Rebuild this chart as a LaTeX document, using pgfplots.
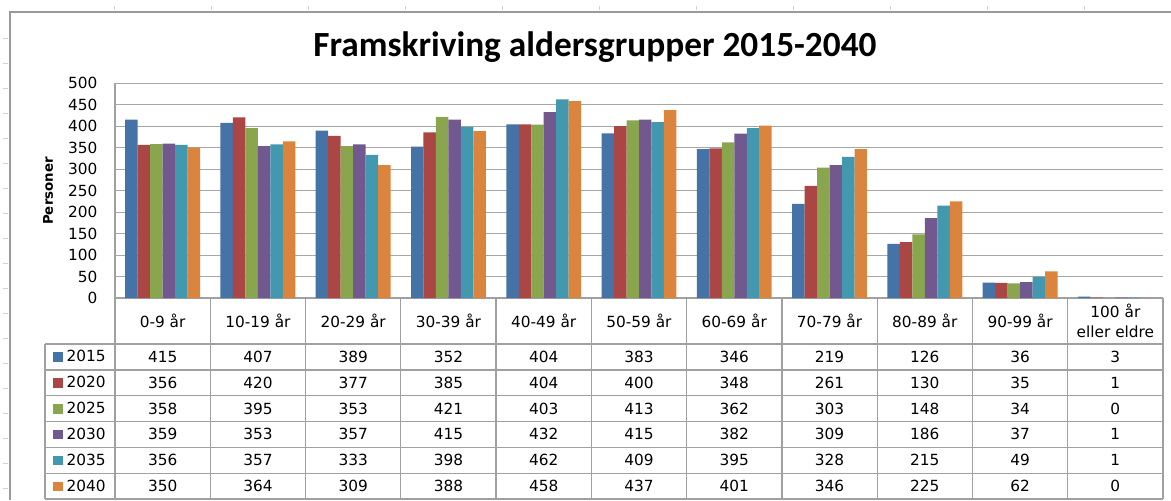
\documentclass[border=0pt]{standalone}
\usepackage{pgfplots}
\pgfplotsset{compat=1.18}
\usepackage{pgfplotstable}
\usepackage{fontspec}
\setmainfont{DejaVu Sans}
\newfontfamily\titlefont{Carlito}
\definecolor{c1}{HTML}{4572A7}
\definecolor{c2}{HTML}{AA4643}
\definecolor{c3}{HTML}{89A54E}
\definecolor{c4}{HTML}{71588F}
\definecolor{c5}{HTML}{4198AF}
\definecolor{c6}{HTML}{DB843D}
\definecolor{tabgray}{HTML}{A0A0A0}
\definecolor{gridgray}{HTML}{A6A6A6}

\pgfplotstableread{
cat y2015 y2020 y2025 y2030 y2035 y2040
0  415 356 358 359 356 350
1  407 420 395 353 357 364
2  389 377 353 357 333 309
3  352 385 421 415 398 388
4  404 404 403 432 462 458
5  383 400 413 415 409 437
6  346 348 362 382 395 401
7  219 261 303 309 328 346
8  126 130 148 186 215 225
9  36  35  34  37  49  62
10 3   1   0   1   1   0
}\data

\begin{document}
\begin{tikzpicture}
\begin{axis}[
  at={(86.25pt,-223.5pt)}, anchor=south west,
  scale only axis, width=786pt, height=161.25pt,
  xmin=-0.5, xmax=10.5, ymin=0, ymax=500,
  ytick={0,50,...,500}, xtick=\empty,
  axis x line*=bottom, axis y line*=left,
  axis line style={-, draw=tabgray, line width=0.9pt},
  ymajorgrids, grid style={draw=gridgray, line width=0.75pt},
  major tick length=0pt,
  /pgf/number format/assume math mode=true,
  yticklabel style={font=\fontsize{11.5}{13}\selectfont, inner sep=0pt, xshift=-13pt},
  ybar=0pt, bar width=0.131,
  area legend,
  legend image code/.code={\fill[#1,draw=none] (0pt,-3.6pt) rectangle (7.2pt,3.6pt);},
  legend cell align=left,
  legend style={at={(axis description cs:-0.0595,-0.214)}, anchor=north west,
    draw=none, fill=none, inner sep=0pt, row sep=0pt, column sep=3pt,
    nodes={inner sep=0pt, minimum height=19.37pt, font=\fontsize{11.5}{13}\selectfont}},
]
\addplot[fill=c1, draw=none, bar shift=-0.3275] table[x=cat, y=y2015] {\data};
\addplot[fill=c2, draw=none, bar shift=-0.1965] table[x=cat, y=y2020] {\data};
\addplot[fill=c3, draw=none, bar shift=-0.0655] table[x=cat, y=y2025] {\data};
\addplot[fill=c4, draw=none, bar shift=0.0655] table[x=cat, y=y2030] {\data};
\addplot[fill=c5, draw=none, bar shift=0.1965] table[x=cat, y=y2035] {\data};
\addplot[fill=c6, draw=none, bar shift=0.3275] table[x=cat, y=y2040] {\data};
\legend{2015,2020,2025,2030,2035,2040}
\end{axis}

\begin{scope}[x=0.75pt, y=-0.75pt]
  % outer chart frame and sheet marks
  \draw[draw=gray!80, line width=1pt] (10,500) -- (10,12) -- (1171,12);
  \foreach \yy in {38,63,...,488} \draw[draw=gray!35, line width=0.6pt] (3,\yy) -- (8,\yy);
  \foreach \xx in {114,211,...,1100} \draw[draw=gray!35, line width=0.6pt] (\xx,6) -- (\xx,10);
  % title
  \node[anchor=base, font=\titlefont\bfseries\fontsize{26.5}{30}\selectfont] at (595,56) {Framskriving aldersgrupper 2015-2040};
  % y label
  \node[rotate=90, font=\bfseries\fontsize{10}{12}\selectfont] at (48,191) {Personer};
  % table grid
  \begin{scope}[draw=tabgray, line width=1pt]
    \foreach \yy in {344,369.83,395.67,421.5,447.33,473.17,499} \draw (45,\yy) -- (1163,\yy);
    \draw (45,344) -- (45,499);
    \foreach \k in {0,...,11} \draw (115+95.27*\k,298) -- (115+95.27*\k,499);
  \end{scope}
  % header labels
  \foreach \lab [count=\k from 0] in {0-9 år,10-19 år,20-29 år,30-39 år,40-49 år,50-59 år,60-69 år,70-79 år,80-89 år,90-99 år}
    \node[font=\fontsize{11.5}{13}\selectfont] at (162.64+95.27*\k,321) {\lab};
  \node[align=center, font=\fontsize{11.5}{15}\selectfont] at (1115.4,321) {100 år\\eller eldre};
  % values
  \foreach \yr [count=\r from 0] in {2015,2020,2025,2030,2035,2040} {
    \foreach \k in {0,...,10} {
      \pgfplotstablegetelem{\k}{y\yr}\of\data
      \node[font=\fontsize{11.5}{13}\selectfont] at (162.64+95.27*\k,356.9+25.83*\r) {\pgfplotsretval};
    }
  }
\end{scope}
\pgfresetboundingbox
\useasboundingbox (0,0) rectangle (878.25pt,-375pt);
\end{tikzpicture}
\end{document}
